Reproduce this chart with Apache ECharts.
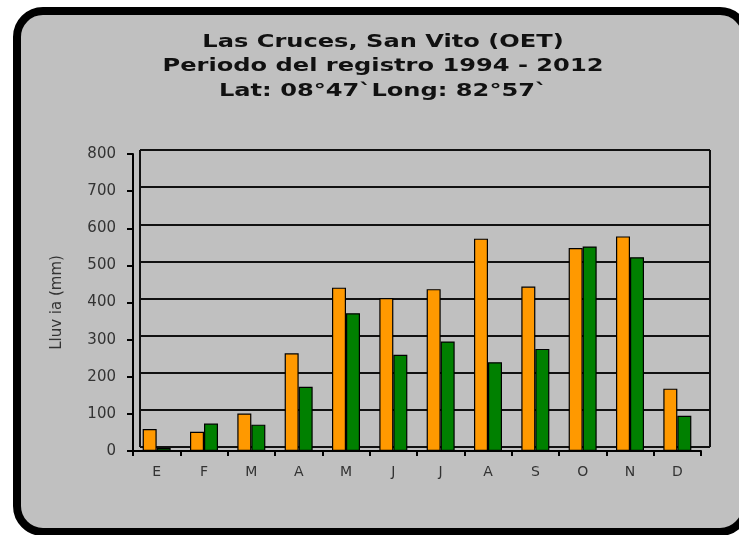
<!DOCTYPE html>
<html>
<head>
<meta charset="utf-8">
<style>
  html, body { margin: 0; padding: 0; background: #ffffff; }
  #chart { width: 739px; height: 535px; }
</style>
<script src="https://cdn.jsdelivr.net/npm/echarts@6/dist/echarts.min.js"></script>
</head>
<body>
<div id="chart"></div>
<script>
// Monthly rainfall, Las Cruces station
const months = ['E', 'F', 'M', 'A', 'M', 'J', 'J', 'A', 'S', 'O', 'N', 'D'];
const seriesA = [59, 52, 101, 263, 440, 412, 436, 572, 443, 547, 578, 168];
const seriesB = [8, 74, 71, 173, 371, 259, 295, 239, 275, 551, 522, 95];
const yTicks = { min: 0, max: 800, interval: 100 };
const titleLines = [
  'Las Cruces, San Vito (OET)',
  'Periodo del registro 1994 - 2012',
  'Lat: 08°47`Long: 82°57`'
];
const yName = 'Lluv ia (mm)';

const chart = echarts.init(document.getElementById('chart'), null, { renderer: 'canvas' });

const labelFont = { fontFamily: '"DejaVu Sans", Verdana, sans-serif', fontSize: 14, color: '#333333' };

// Title block: three centred bold lines, drawn slightly widened
const titleGraphics = titleLines.map((t, i) => ({
  type: 'text',
  x: 383,
  y: 42 + i * 24.5,
  scaleX: 1.34,
  z: 10,
  style: {
    text: t,
    textAlign: 'center',
    textVerticalAlign: 'middle',
    font: 'bold 18px "DejaVu Sans", Verdana, sans-serif',
    fill: '#111111'
  }
}));

const option = {
  backgroundColor: '#ffffff',
  animation: false,
  graphic: [
    {
      type: 'rect',
      z: -10,
      silent: true,
      shape: { x: 17, y: 11, width: 729, height: 521, r: 26 },
      style: { fill: '#c0c0c0', stroke: '#000000', lineWidth: 8 }
    },
    ...titleGraphics
  ],
  grid: [
    { left: 133, right: 38, top: 154, bottom: 84, containLabel: false },
    { left: 140, right: 29, top: 150, bottom: 88, containLabel: false }
  ],
  xAxis: [
    {
      type: 'category',
      gridIndex: 0,
      data: months,
      axisLine: { lineStyle: { color: '#000000', width: 2 } },
      axisTick: { show: true, length: 5, lineStyle: { color: '#000000', width: 2 } },
      axisLabel: Object.assign({ margin: 14 }, labelFont),
      splitLine: { show: false }
    },
    {
      type: 'value',
      gridIndex: 1,
      min: 0, max: 1, interval: 1,
      axisLine: { show: false },
      axisTick: { show: false },
      axisLabel: { show: false },
      splitLine: { show: true, lineStyle: { color: '#111111', width: 2 } }
    }
  ],
  yAxis: [
    {
      type: 'value',
      gridIndex: 0,
      min: yTicks.min, max: yTicks.max, interval: yTicks.interval,
      name: yName,
      nameLocation: 'middle',
      nameGap: 68,
      nameTextStyle: { fontFamily: '"DejaVu Sans", Verdana, sans-serif', fontSize: 15, color: '#333333' },
      axisLine: { show: true, lineStyle: { color: '#000000', width: 2 } },
      axisTick: { show: true, length: 6, lineStyle: { color: '#000000', width: 2 } },
      axisLabel: Object.assign({ margin: 17 }, labelFont, { fontSize: 15 }),
      splitLine: { show: false }
    },
    {
      type: 'value',
      gridIndex: 1,
      min: yTicks.min, max: yTicks.max, interval: yTicks.interval,
      axisLine: { show: false },
      axisTick: { show: false },
      axisLabel: { show: false },
      splitLine: { show: true, lineStyle: { color: '#111111', width: 2 } }
    }
  ],
  series: [
    {
      type: 'bar',
      xAxisIndex: 0, yAxisIndex: 0,
      data: seriesA,
      barWidth: 14,
      barGap: '0%',
      z: 5,
      itemStyle: { color: '#ff9900', borderColor: '#000000', borderWidth: 1.2 }
    },
    {
      type: 'bar',
      xAxisIndex: 0, yAxisIndex: 0,
      data: seriesB,
      barWidth: 14,
      barGap: '0%',
      z: 5,
      itemStyle: { color: '#008000', borderColor: '#000000', borderWidth: 1.2 }
    }
  ]
};

chart.setOption(option);
</script>
</body>
</html>
